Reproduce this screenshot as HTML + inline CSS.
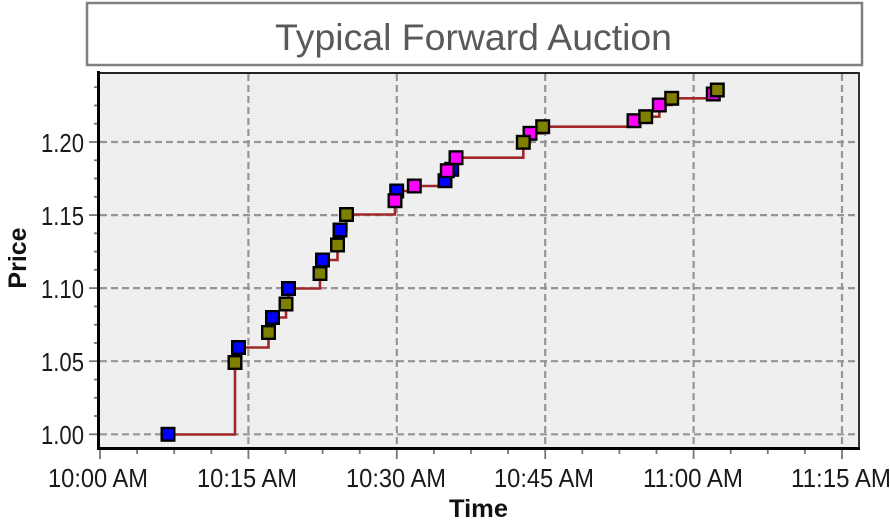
<!DOCTYPE html>
<html>
<head>
<meta charset="utf-8">
<style>
html,body{margin:0;padding:0;background:#fff;}
body{width:890px;height:530px;overflow:hidden;}
svg{display:block;}
text{font-family:"Liberation Sans",Arial,sans-serif;}
</style>
</head>
<body>
<svg width="890" height="530" viewBox="0 0 890 530" xmlns="http://www.w3.org/2000/svg">
  <!-- Title box -->
  <rect x="87" y="3" width="775" height="62" fill="#fff" stroke="#808080" stroke-width="2.5"/>
  <text x="275" y="50" font-size="37" fill="#595959" textLength="397" lengthAdjust="spacingAndGlyphs">Typical Forward Auction</text>

  <!-- Plot background -->
  <rect x="98" y="72" width="761" height="377" fill="#efefef"/>

  <!-- Gridlines -->
  <g stroke="#959595" stroke-width="2.2" stroke-dasharray="7 4" fill="none">
    <line x1="100" y1="434.3" x2="858" y2="434.3"/>
    <line x1="100" y1="361.2" x2="858" y2="361.2"/>
    <line x1="100" y1="288.1" x2="858" y2="288.1"/>
    <line x1="100" y1="215.1" x2="858" y2="215.1"/>
    <line x1="100" y1="142" x2="858" y2="142"/>
    <line x1="248.4" y1="74" x2="248.4" y2="447"/>
    <line x1="396.8" y1="74" x2="396.8" y2="447"/>
    <line x1="545.2" y1="74" x2="545.2" y2="447"/>
    <line x1="693.6" y1="74" x2="693.6" y2="447"/>
    <line x1="842" y1="74" x2="842" y2="447"/>
  </g>

  <!-- Step line -->
  <path d="M168,434.5 H235 V362.5 H238.5 V347.5 H268.5 V332.5 H272.5 V317.5 H286 V304 H288.5 V288.5 H320 V273.5 H322.5 V260 H337.5 V245 H340 V230 H346.5 V214.5 H395 V200.7 H396.7 V191 H414.3 V186 H445 V180.7 H447.3 V170.7 H451.7 V169.3 H456 V157.7 H523.3 V142.3 H530 V133.3 H542.7 V126.7 H634 V120.7 H645.7 V116.7 H659.3 V105 H671.7 V98.3 H713.3 V94 H717.3 V90" fill="none" stroke="#a02828" stroke-width="2.6"/>

  <!-- Markers: blue -->
  <g fill="#0000ff" stroke="#000" stroke-width="2.4">
    <rect x="161.7" y="428" width="12.6" height="12.6"/>
    <rect x="232.2" y="341.2" width="12.6" height="12.6"/>
    <rect x="266.2" y="311.2" width="12.6" height="12.6"/>
    <rect x="282.2" y="282.2" width="12.6" height="12.6"/>
    <rect x="316.2" y="253.7" width="12.6" height="12.6"/>
    <rect x="333.7" y="223.7" width="12.6" height="12.6"/>
    <rect x="390.4" y="184.7" width="12.6" height="12.6"/>
    <rect x="438.7" y="174.4" width="12.6" height="12.6"/>
    <rect x="445.4" y="163" width="12.6" height="12.6"/>
  </g>
  <!-- Markers: magenta -->
  <g fill="#ff00ff" stroke="#000" stroke-width="2.4">
    <rect x="388.7" y="194.4" width="12.6" height="12.6"/>
    <rect x="408" y="179.7" width="12.6" height="12.6"/>
    <rect x="441" y="164.4" width="12.6" height="12.6"/>
    <rect x="449.7" y="151.4" width="12.6" height="12.6"/>
    <rect x="523.7" y="127" width="12.6" height="12.6"/>
    <rect x="627.7" y="114.4" width="12.6" height="12.6"/>
    <rect x="653" y="98.7" width="12.6" height="12.6"/>
    <rect x="707" y="87.7" width="12.6" height="12.6"/>
  </g>
  <!-- Markers: olive -->
  <g fill="#808000" stroke="#000" stroke-width="2.4">
    <rect x="228.7" y="356.2" width="12.6" height="12.6"/>
    <rect x="262.2" y="326.2" width="12.6" height="12.6"/>
    <rect x="279.7" y="297.7" width="12.6" height="12.6"/>
    <rect x="313.7" y="267.2" width="12.6" height="12.6"/>
    <rect x="331.2" y="238.7" width="12.6" height="12.6"/>
    <rect x="340.2" y="208.2" width="12.6" height="12.6"/>
    <rect x="517" y="136" width="12.6" height="12.6"/>
    <rect x="536.4" y="120.4" width="12.6" height="12.6"/>
    <rect x="639.4" y="110.4" width="12.6" height="12.6"/>
    <rect x="665.4" y="92" width="12.6" height="12.6"/>
    <rect x="711" y="83.7" width="12.6" height="12.6"/>
  </g>

  <!-- Plot frame -->
  <line x1="97" y1="73" x2="860" y2="73" stroke="#222" stroke-width="2"/>
  <line x1="859" y1="72" x2="859" y2="450" stroke="#333" stroke-width="2"/>
  <line x1="98.5" y1="71" x2="98.5" y2="450" stroke="#000" stroke-width="3"/>
  <line x1="97" y1="448.5" x2="860" y2="448.5" stroke="#000" stroke-width="3"/>

  <!-- Y ticks -->
  <g stroke="#777" stroke-width="1.8">
    <line x1="89" y1="434.3" x2="97" y2="434.3"/>
    <line x1="89" y1="361.2" x2="97" y2="361.2"/>
    <line x1="89" y1="288.1" x2="97" y2="288.1"/>
    <line x1="89" y1="215.1" x2="97" y2="215.1"/>
    <line x1="89" y1="142" x2="97" y2="142"/>
    <line x1="94" y1="416" x2="97" y2="416"/>
    <line x1="94" y1="397.8" x2="97" y2="397.8"/>
    <line x1="94" y1="379.5" x2="97" y2="379.5"/>
    <line x1="94" y1="342.9" x2="97" y2="342.9"/>
    <line x1="94" y1="324.7" x2="97" y2="324.7"/>
    <line x1="94" y1="306.4" x2="97" y2="306.4"/>
    <line x1="94" y1="269.8" x2="97" y2="269.8"/>
    <line x1="94" y1="251.6" x2="97" y2="251.6"/>
    <line x1="94" y1="233.3" x2="97" y2="233.3"/>
    <line x1="94" y1="196.8" x2="97" y2="196.8"/>
    <line x1="94" y1="178.5" x2="97" y2="178.5"/>
    <line x1="94" y1="160.3" x2="97" y2="160.3"/>
    <line x1="94" y1="123.7" x2="97" y2="123.7"/>
    <line x1="94" y1="105.5" x2="97" y2="105.5"/>
    <line x1="94" y1="87.2" x2="97" y2="87.2"/>
  </g>

  <!-- X ticks -->
  <g stroke="#777" stroke-width="1.8">
    <line x1="100" y1="450" x2="100" y2="459"/>
    <line x1="248.4" y1="450" x2="248.4" y2="459"/>
    <line x1="396.8" y1="450" x2="396.8" y2="459"/>
    <line x1="545.2" y1="450" x2="545.2" y2="459"/>
    <line x1="693.6" y1="450" x2="693.6" y2="459"/>
    <line x1="842" y1="450" x2="842" y2="459"/>
    <line x1="137.1" y1="450" x2="137.1" y2="454"/>
    <line x1="174.2" y1="450" x2="174.2" y2="454"/>
    <line x1="211.3" y1="450" x2="211.3" y2="454"/>
    <line x1="285.5" y1="450" x2="285.5" y2="454"/>
    <line x1="322.6" y1="450" x2="322.6" y2="454"/>
    <line x1="359.7" y1="450" x2="359.7" y2="454"/>
    <line x1="433.9" y1="450" x2="433.9" y2="454"/>
    <line x1="471" y1="450" x2="471" y2="454"/>
    <line x1="508.1" y1="450" x2="508.1" y2="454"/>
    <line x1="582.3" y1="450" x2="582.3" y2="454"/>
    <line x1="619.4" y1="450" x2="619.4" y2="454"/>
    <line x1="656.5" y1="450" x2="656.5" y2="454"/>
    <line x1="730.7" y1="450" x2="730.7" y2="454"/>
    <line x1="767.8" y1="450" x2="767.8" y2="454"/>
    <line x1="804.9" y1="450" x2="804.9" y2="454"/>
  </g>

  <!-- Y labels -->
  <g font-size="26" fill="#1a1a1a">
    <text x="41" y="444" textLength="43" lengthAdjust="spacingAndGlyphs">1.00</text>
    <text x="41" y="371" textLength="43" lengthAdjust="spacingAndGlyphs">1.05</text>
    <text x="41" y="298" textLength="43" lengthAdjust="spacingAndGlyphs">1.10</text>
    <text x="41" y="225" textLength="43" lengthAdjust="spacingAndGlyphs">1.15</text>
    <text x="41" y="152" textLength="43" lengthAdjust="spacingAndGlyphs">1.20</text>
  </g>

  <!-- X labels -->
  <g font-size="26" fill="#1a1a1a">
    <text x="48" y="487" textLength="100" lengthAdjust="spacingAndGlyphs">10:00 AM</text>
    <text x="197" y="487" textLength="100" lengthAdjust="spacingAndGlyphs">10:15 AM</text>
    <text x="346" y="487" textLength="100" lengthAdjust="spacingAndGlyphs">10:30 AM</text>
    <text x="494" y="487" textLength="100" lengthAdjust="spacingAndGlyphs">10:45 AM</text>
    <text x="643" y="487" textLength="100" lengthAdjust="spacingAndGlyphs">11:00 AM</text>
    <text x="791" y="487" textLength="100" lengthAdjust="spacingAndGlyphs">11:15 AM</text>
  </g>

  <!-- Axis titles -->
  <text x="449" y="517" font-size="25" font-weight="bold" fill="#111" textLength="59" lengthAdjust="spacingAndGlyphs">Time</text>
  <text transform="translate(26,258) rotate(-90)" font-size="25" font-weight="bold" fill="#111" text-anchor="middle">Price</text>
</svg>
</body>
</html>
